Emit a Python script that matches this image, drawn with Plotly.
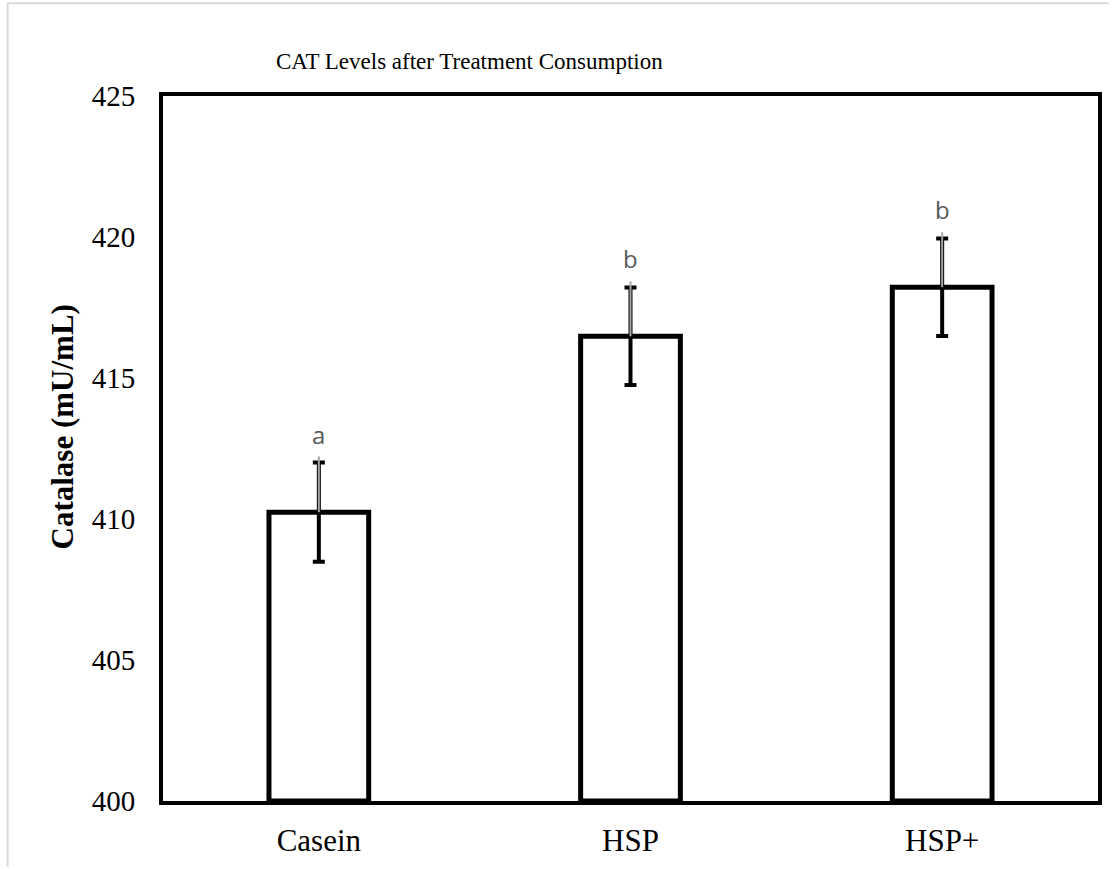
import plotly.graph_objects as go

categories = ["Casein", "HSP", "HSP+"]
values = [410.24, 416.48, 418.22]
errors = [1.76, 1.73, 1.73]
letters = ["a", "b", "b"]
y_ticks = [400, 405, 410, 415, 420, 425]

W, H = 1113, 869
ML, MR, MT, MB = 163, 11, 96, 66
PW, PH = W - ML - MR, H - MT - MB

fig = go.Figure()
fig.add_trace(go.Bar(
    x=categories, y=[v - 400 for v in values], base=400,
    width=0.32,
    marker=dict(color="white", line=dict(color="black", width=5)),
    error_y=dict(type="data", array=errors, color="black", thickness=4, width=6),
    showlegend=False, hoverinfo="skip",
))

# leader lines (gray) from bar top to just above error cap
for i, (c, v, e) in enumerate(zip(categories, values, errors)):
    fig.add_trace(go.Scatter(
        x=[c, c], y=[v, v + e + 0.22], mode="lines",
        line=dict(color="#a6a6a6", width=2), showlegend=False, hoverinfo="skip",
    ))
    fig.add_annotation(
        x=c, y=v + e, xref="x", yref="y", text=letters[i], showarrow=False,
        yanchor="bottom", yshift=10,
        font=dict(family="Open Sans", size=24, color="#595959"),
    )

fig.add_annotation(
    x=(274 - ML) / PW, y=(H - MB - 61) / PH, xref="paper", yref="paper",
    text="CAT Levels after Treatment Consumption", showarrow=False,
    xanchor="left", yanchor="middle",
    font=dict(family="Liberation Serif", size=23, color="black"),
)
fig.add_annotation(
    x=(62 - ML) / PW, y=(H - MB - 428) / PH, xref="paper", yref="paper",
    text="<b>Catalase (mU/mL)</b>", showarrow=False, textangle=-90,
    xanchor="center", yanchor="middle",
    font=dict(family="Liberation Serif", size=31, color="black"),
)

# light gray page border (top and left)
fig.add_shape(type="line", xref="paper", yref="paper",
              x0=(7 - ML) / PW, x1=(W - ML) / PW, y0=(H - MB - 3) / PH, y1=(H - MB - 3) / PH,
              line=dict(color="#d9d9d9", width=2))
fig.add_shape(type="line", xref="paper", yref="paper",
              x0=(7 - ML) / PW, x1=(7 - ML) / PW, y0=(H - MB - 3) / PH, y1=-MB / PH,
              line=dict(color="#d9d9d9", width=2))

fig.update_layout(
    width=W, height=H,
    margin=dict(l=ML, r=MR, t=MT, b=MB),
    plot_bgcolor="white", paper_bgcolor="white",
    font=dict(family="Liberation Serif", color="black"),
    xaxis=dict(
        range=[-0.5, 2.5], showline=True, linecolor="black", linewidth=4, mirror=True,
        showgrid=False, zeroline=False, ticks="", ticklabelstandoff=9,
        tickfont=dict(family="Liberation Serif", size=31, color="black"),
    ),
    yaxis=dict(
        range=[400, 425], tickvals=y_ticks, showline=True, linecolor="black", linewidth=4,
        mirror=True, showgrid=False, zeroline=False, ticks="", ticklabelstandoff=18,
        tickfont=dict(family="Liberation Serif", size=29, color="black"),
    ),
)

fig.write_html("out.html")
